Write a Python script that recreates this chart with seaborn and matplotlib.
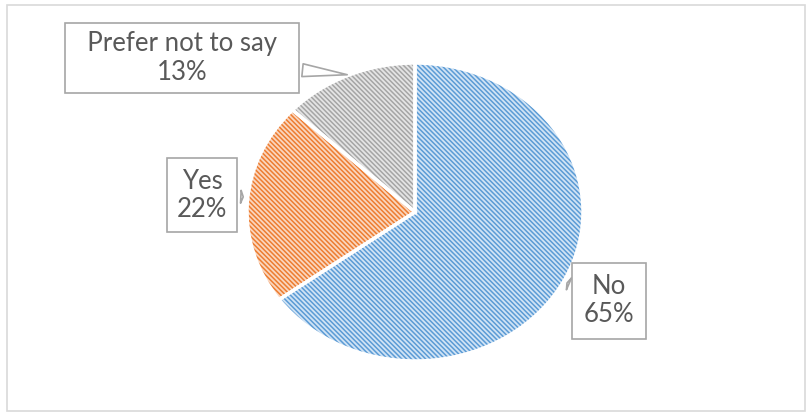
import matplotlib
matplotlib.use("Agg")
import matplotlib.pyplot as plt
from matplotlib.patches import Rectangle
import seaborn as sns

categories = ["No", "Yes", "Prefer not to say"]
shares = [65, 22, 13]
base_colors = ["#5B9BD5", "#ED7D31", "#A5A5A5"]
light_colors = ["#D0E3F5", "#FAD6BE", "#E4E4E4"]

sns.set_theme(style="white")
plt.rcParams["font.family"] = ["Lato", "DejaVu Sans"]
plt.rcParams["hatch.linewidth"] = 1.1

W, H = 812, 415
fig = plt.figure(figsize=(W / 100, H / 100), dpi=100)

# pie spans x 247..583, y 63..361 in pixels (slightly squashed vertically)
ax = fig.add_axes([247 / W, (H - 361) / H, 336 / W, 298 / H])
palette = sns.color_palette(base_colors)

wedges, _ = ax.pie(shares, startangle=90, counterclock=False,
                   colors=light_colors, radius=1.0,
                   wedgeprops=dict(linewidth=0))
for w, c in zip(wedges, palette):
    w.set_edgecolor(c)
    w.set_hatch("\\" * 7)
ax.pie(shares, startangle=90, counterclock=False, radius=1.0,
       wedgeprops=dict(fill=False, edgecolor="white", linewidth=2.5))
ax.set_aspect("auto")
ax.set_xlim(-1, 1)
ax.set_ylim(-1, 1)
ax.axis("off")


def px(x, y):
    return (x / W, 1 - y / H)


# label text centre and pointer tip, in pixels
label_pos = {"No": (609, 301), "Yes": (202, 195), "Prefer not to say": (182, 58)}
tip_pos = {"No": (567, 283), "Yes": (246, 197), "Prefer not to say": (350, 75)}
pads = {"No": 0.45, "Yes": 0.4, "Prefer not to say": 0.35}

for cat, val in zip(categories, shares):
    name = f"  {cat}  " if len(cat) > 5 else cat
    ax.annotate(f"{name}\n{val}%", xy=px(*tip_pos[cat]), xycoords="figure fraction",
                xytext=px(*label_pos[cat]), textcoords="figure fraction",
                ha="center", va="center", fontsize=18.5, color="#595959",
                linespacing=1.15, multialignment="center",
                bbox=dict(boxstyle=f"square,pad={pads[cat]}", fc="white",
                          ec="#A6A6A6", lw=1.2),
                arrowprops=dict(arrowstyle="wedge,tail_width=0.5,shrink_factor=0.5",
                                fc="white", ec="#A6A6A6", lw=1.2),
                annotation_clip=False)

fig.patches.append(Rectangle((7 / W, 4 / H), 798 / W, 406 / H, transform=fig.transFigure,
                             fill=False, edgecolor="#D9D9D9", linewidth=1.2))

fig.savefig("out.png", dpi=100)
